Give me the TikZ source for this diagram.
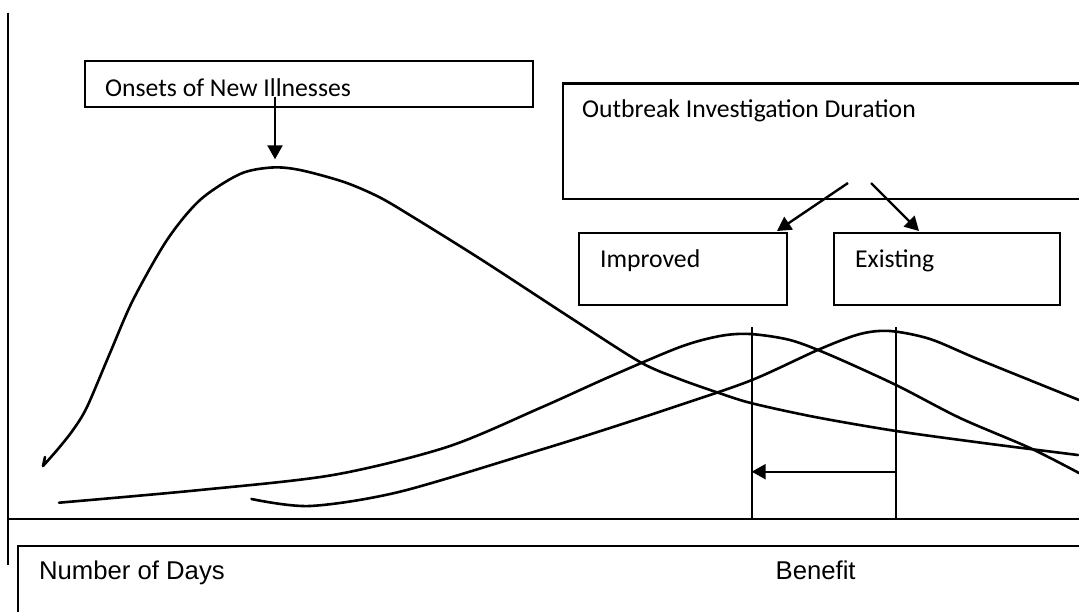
\documentclass[tikz,border=0pt]{standalone}
\usepackage{fontspec}
\newfontfamily\calfont{Carlito}
\newfontfamily\arialfont{Liberation Sans}
\usetikzlibrary{arrows.meta}

\begin{document}
\begin{tikzpicture}[x=1pt, y=-1pt, line width=2.2pt,
  box/.style={draw, rectangle, inner sep=0pt, anchor=north west},
  lbl/.style={inner sep=0pt, anchor=base west, font=\calfont\fontsize{25.7}{30}\selectfont},
  axlbl/.style={inner sep=0pt, anchor=base west, font=\arialfont\fontsize{25.7}{30}\selectfont},
  arr/.style={-{Triangle[length=14pt,width=15pt]}, line width=2.4pt},
  crv/.style={line width=2.6pt, line join=round, line cap=round}]
\useasboundingbox (0,0) rectangle (1079,611);
\clip (0,0) rectangle (1079,611);
% axes
\draw (8,12.5) -- (8,565);
\draw (8,519) -- (1079,519);
% boxes
\node[box, minimum width=447.5pt, minimum height=45.7pt] (onsets) at (84,60) {};
\node[box, minimum width=560pt, minimum height=115.7pt] (outbreak) at (561.7,82.3) {};
\node[box, minimum width=208pt, minimum height=72.3pt] (improved) at (578,231.7) {};
\node[box, minimum width=226.3pt, minimum height=72.3pt] (existing) at (832.7,231.7) {};
\node[box, minimum width=1100pt, minimum height=100pt] (days) at (16.7,545) {};
% labels
\node[lbl] (onsets-lbl) at (104,96.5) {Onsets of New Illnesses};
\node[lbl] (outbreak-lbl) at (581,117.5) {Outbreak Investigation Duration};
\node[lbl] (improved-lbl) at (599,267) {Improved};
\node[lbl] (existing-lbl) at (854,267) {Existing};
\node[axlbl] (days-lbl) at (38,579.3) {Number of Days};
\node[axlbl] (benefit-lbl) at (774.5,579.3) {Benefit};
% curves
\draw[crv] (45,457) -- (43,466) plot[smooth] coordinates {(43,466) (58,449) (73,430) (87,407)
  (110,353) (133,300) (167,240) (200,200) (240,174) (272,167.5) (300,170) (344,182) (379,197)
  (413,217) (482,260) (574,320) (640,362) (678,378.5) (719,393) (752,403.3) (815,417)
  (896,431) (987,443.5) (1078,455)};
\draw[crv] plot[smooth] coordinates {(59,502.7) (200,490) (333,475) (447,447) (540,408)
  (609,377) (680,347) (720,336) (750,334) (790,340) (830,355) (896,385) (960,418) (1030,448) (1079,473)};
\draw[crv] plot[smooth] coordinates {(251.5,499) (310,506) (400,491.7) (540,450) (609,428.3)
  (680,405) (752,380) (820,349) (860,334) (890,331) (930,339) (980,360) (1079,400)};
% markers
\foreach \n/\x in {im/751.7, ex/896}{
  \coordinate (\n-top) at (\x,327);
  \coordinate (\n-bot) at (\x,519);
  \coordinate (\n-mark) at (\x,471.7);
  \draw (\n-top) -- (\n-bot);
}
\draw[arr] (ex-mark) -- (im-mark);
% arrows
\coordinate (onsets-foot) at (275,96.5);
\coordinate (peak-top) at (275,159.3);
\draw[arr] (onsets-foot) -- (peak-top);
\coordinate (split-l) at (848,183);
\coordinate (split-r) at (871,183);
\coordinate (improved-in) at (777,231);
\coordinate (existing-in) at (919,231);
\draw[arr] (split-l) -- (improved-in);
\draw[arr] (split-r) -- (existing-in);
\end{tikzpicture}
\end{document}
